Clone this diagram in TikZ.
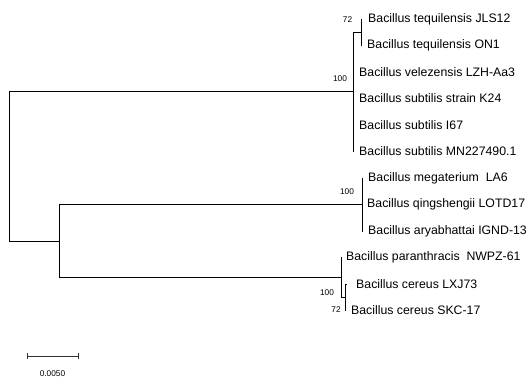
\documentclass[tikz,border=0pt]{standalone}
\usepackage{fontspec}
\setmainfont{Liberation Sans}
\begin{document}
\begin{tikzpicture}[x=1pt,y=-1pt,
  br/.style={line width=0.9pt, black},
  leaf/.style={anchor=west, inner sep=0pt, font=\fontsize{12.3}{14}\selectfont},
  boot/.style={inner sep=0pt, font=\fontsize{8.3}{10}\selectfont}]
\useasboundingbox (0,0) rectangle (529,380);
% internal nodes
\coordinate (root) at (9.5,166.4);
\coordinate (nA) at (353,91.9);
\coordinate (nA72) at (361,32.25);
\coordinate (nB) at (59.5,241);
\coordinate (nC) at (362,204.5);
\coordinate (nD) at (341,277.4);
\coordinate (nD72) at (345,297.25);
% tips
\coordinate (tJLS) at (362,19);
\coordinate (tON) at (362,45.5);
\coordinate (tLZH) at (353,72);
\coordinate (tK) at (353,98.5);
\coordinate (tI) at (353,125);
\coordinate (tMN) at (353,151.5);
\coordinate (tMeg) at (363,178);
\coordinate (tQin) at (363,204.5);
\coordinate (tAry) at (363,231);
\coordinate (tPar) at (342,257.5);
\coordinate (tLXJ) at (347,284);
\coordinate (tSKC) at (345.5,310.5);
% branches
\draw[br] (root) |- (nA);
\draw[br] (root) |- (nB);
\draw[br] (nA) |- (nA72);
\draw[br] (nA72) |- (tJLS);
\draw[br] (nA72) |- (tON);
\draw[br] (nA) |- (tLZH);
\draw[br] (nA) |- (tK);
\draw[br] (nA) |- (tI);
\draw[br] (nA) |- (tMN);
\draw[br] (nB) |- (nC);
\draw[br] (nC) |- (tMeg);
\draw[br] (nC) |- (tQin);
\draw[br] (nC) |- (tAry);
\draw[br] (nB) |- (nD);
\draw[br] (nD) |- (tPar);
\draw[br] (nD) |- (nD72);
\draw[br] (nD72) |- (tLXJ);
\draw[br] (nD72) |- (tSKC);
% leaf labels
\node[leaf] (JLS) at (368,19) {Bacillus tequilensis JLS12};
\node[leaf] (ON) at (367,45.5) {Bacillus tequilensis ON1};
\node[leaf] (LZH) at (359,72) {Bacillus velezensis LZH-Aa3};
\node[leaf] (K) at (359,98.5) {Bacillus subtilis strain K24};
\node[leaf] (I) at (359,125) {Bacillus subtilis I67};
\node[leaf] (MN) at (359,151.5) {Bacillus subtilis MN227490.1};
\node[leaf] (Meg) at (368,178) {Bacillus megaterium\ \ LA6};
\node[leaf] (Qin) at (367,204.5) {Bacillus qingshengii LOTD17};
\node[leaf] (Ary) at (368,231) {Bacillus aryabhattai IGND-13};
\node[leaf] (Par) at (346,257.5) {Bacillus paranthracis\ \ NWPZ-61};
\node[leaf] (LXJ) at (356,284) {Bacillus cereus LXJ73};
\node[leaf] (SKC) at (351,310.5) {Bacillus cereus SKC-17};
% bootstrap values
\node[boot] (bA) at (340,78.5) {100};
\node[boot] (bA72) at (347.5,19.5) {72};
\node[boot] (bC) at (347,192) {100};
\node[boot] (bD) at (327,292.5) {100};
\node[boot] (bD72) at (336,310) {72};
% scale bar
\coordinate (s1) at (27,356);
\coordinate (s2) at (78,356);
\draw[br, line width=1pt, black!80] (s1) -- (s2);
\draw[br, line width=0.8pt, black!80] ([yshift=-3pt]s1) -- ([yshift=3pt]s1);
\draw[br, line width=0.8pt, black!80] ([yshift=-3pt]s2) -- ([yshift=3pt]s2);
\node[boot] (sl) at (52.5,374) {0.0050};
\end{tikzpicture}
\end{document}
